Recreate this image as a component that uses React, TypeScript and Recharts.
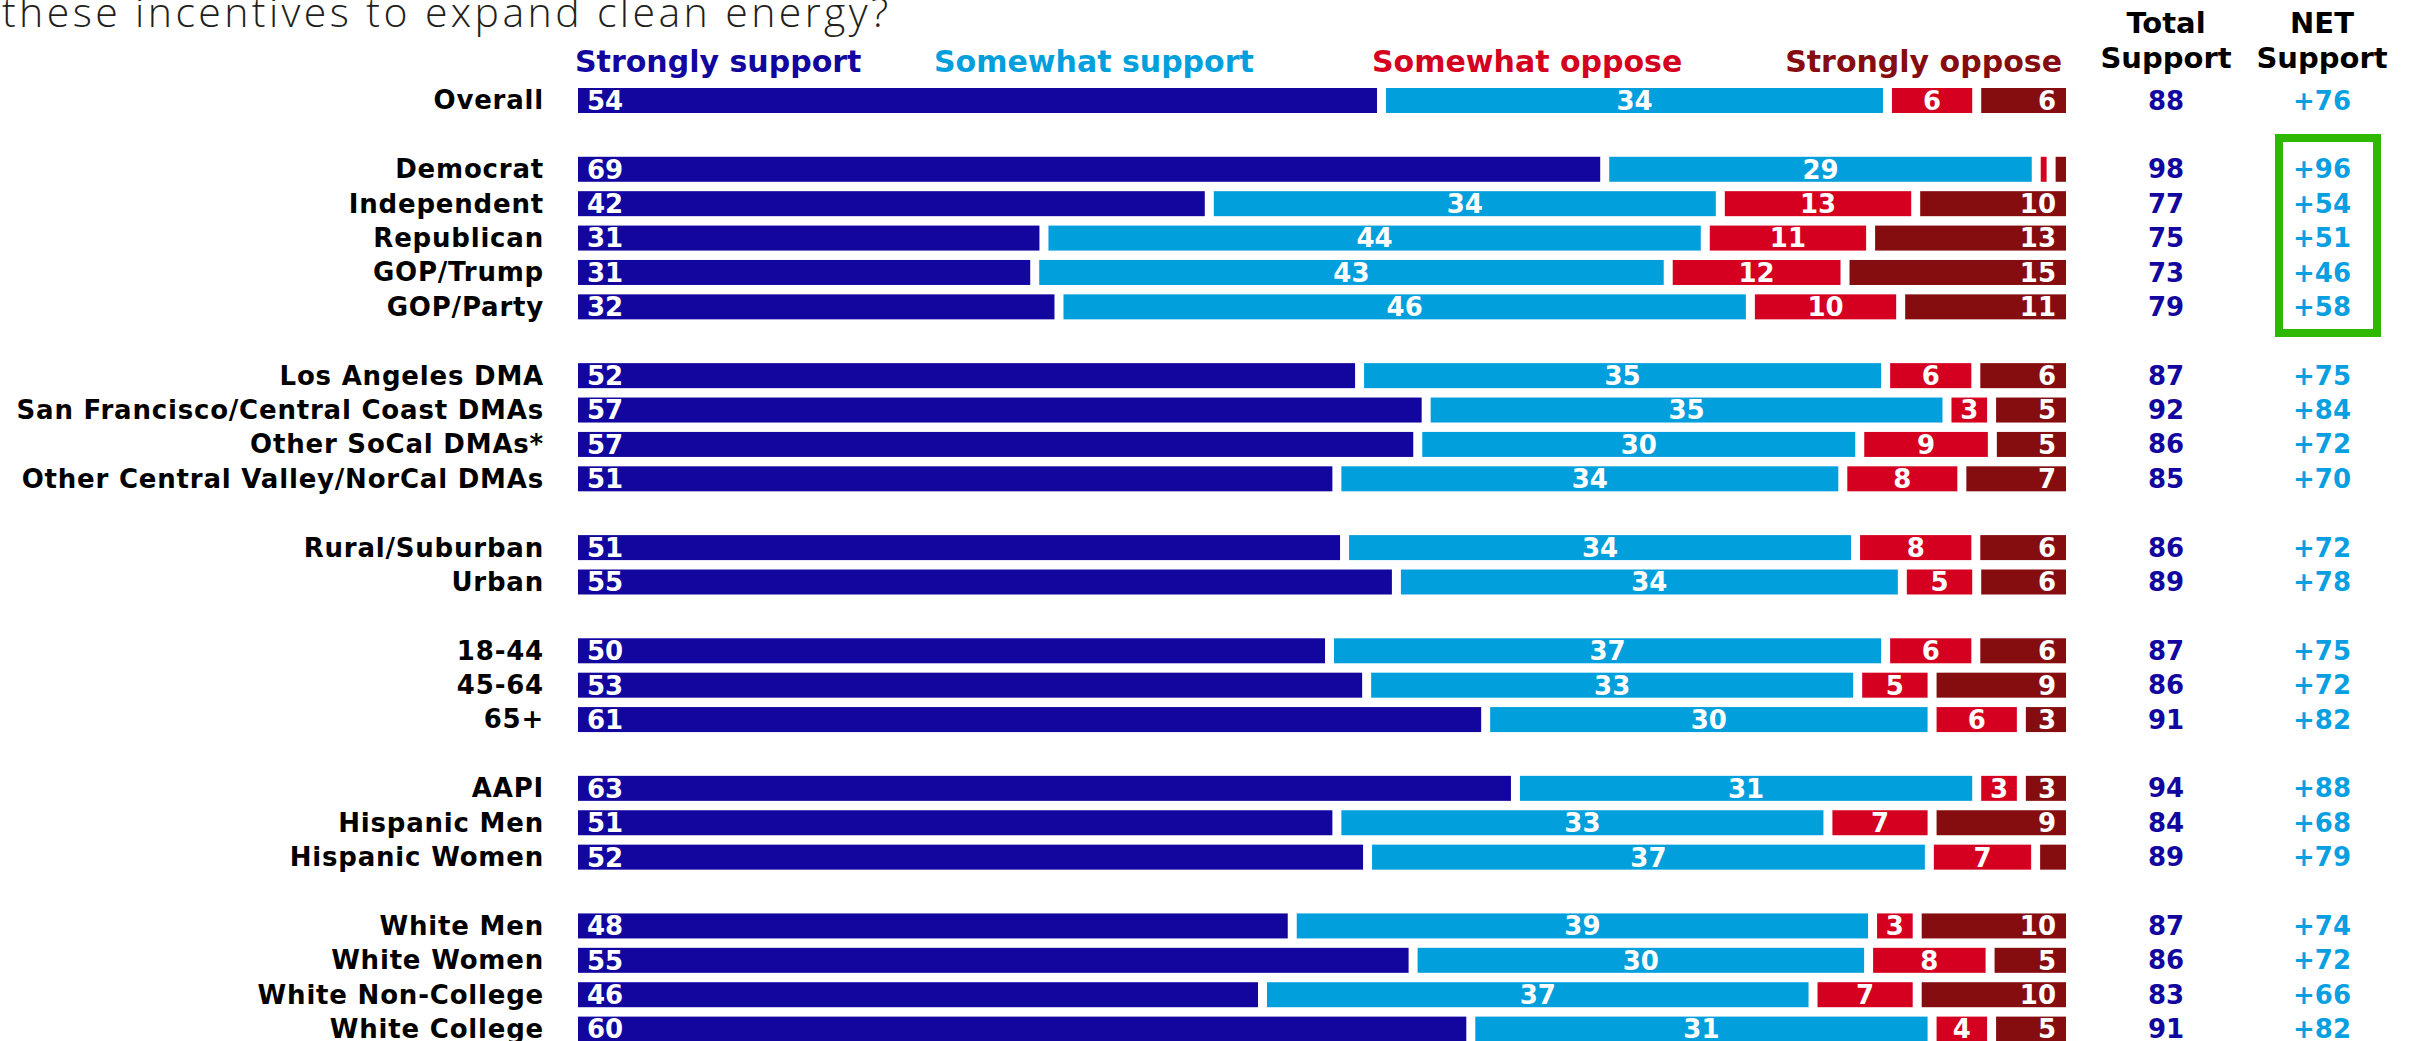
import React from "react";
import { Bar, BarChart, Legend, XAxis, YAxis } from "recharts";

const LABELS = [
  "Overall", "",
  "Democrat", "Independent", "Republican", "GOP/Trump", "GOP/Party", "",
  "Los Angeles DMA", "San Francisco/Central Coast DMAs", "Other SoCal DMAs*", "Other Central Valley/NorCal DMAs", "",
  "Rural/Suburban", "Urban", "",
  "18-44", "45-64", "65+", "",
  "AAPI", "Hispanic Men", "Hispanic Women", "",
  "White Men", "White Women", "White Non-College", "White College",
];

const _ = null;
const STRONG_SUPPORT = [54, _, 69, 42, 31, 31, 32, _, 52, 57, 57, 51, _, 51, 55, _, 50, 53, 61, _, 63, 51, 52, _, 48, 55, 46, 60];
const SOMEWHAT_SUPPORT = [34, _, 29, 34, 44, 43, 46, _, 35, 35, 30, 34, _, 34, 34, _, 37, 33, 30, _, 31, 33, 37, _, 39, 30, 37, 31];
const SOMEWHAT_OPPOSE = [6, _, 1, 13, 11, 12, 10, _, 6, 3, 9, 8, _, 8, 5, _, 6, 5, 6, _, 3, 7, 7, _, 3, 8, 7, 4];
const STRONG_OPPOSE = [6, _, 1, 10, 13, 15, 11, _, 6, 5, 5, 7, _, 6, 6, _, 6, 9, 3, _, 3, 9, 2, _, 10, 5, 10, 5];
const TOTAL_SUPPORT = [88, _, 98, 77, 75, 73, 79, _, 87, 92, 86, 85, _, 86, 89, _, 87, 86, 91, _, 94, 84, 89, _, 87, 86, 83, 91];
const NET_SUPPORT = [76, _, 96, 54, 51, 46, 58, _, 75, 84, 72, 70, _, 72, 78, _, 75, 72, 82, _, 88, 68, 79, _, 74, 72, 66, 82];

const SERIES = [
  { key: "ss", name: "Strongly support", color: "#12069F", pos: "first" },
  { key: "sw", name: "Somewhat support", color: "#029FDD", pos: "mid" },
  { key: "so", name: "Somewhat oppose", color: "#D50020", pos: "mid" },
  { key: "st", name: "Strongly oppose", color: "#850C0F", pos: "last" },
];

const data = LABELS.map((label, i) => ({
  row: `r${i}`,
  label,
  ss: STRONG_SUPPORT[i],
  sw: SOMEWHAT_SUPPORT[i],
  so: SOMEWHAT_OPPOSE[i],
  st: STRONG_OPPOSE[i],
}));

const FONT = "'DejaVu Sans', Inter, sans-serif";
const GAP = 9;

function segmentShape(key: string, pos: string) {
  return (p: any) => {
    const v = p.payload?.[key];
    if (v == null || !(p.width > 0)) return null;
    let x = p.x;
    let w = p.width;
    if (pos !== "first") {
      x += GAP / 2;
      w -= GAP / 2;
    }
    if (pos !== "last") w -= GAP / 2;
    if (w < 1) w = 1;
    const cy = p.y + p.height / 2;
    let tx = x + w / 2;
    let anchor: any = "middle";
    if (pos === "first") {
      tx = x + 9;
      anchor = "start";
    } else if (pos === "last") {
      tx = x + w - 10;
      anchor = "end";
    }
    return (
      <g>
        <rect x={x} y={p.y} width={w} height={p.height} fill={p.fill} />
        {v >= 3 && (
          <text x={tx} y={cy} dy="0.36em" textAnchor={anchor} fill="#fff" fontSize={26} fontWeight={700} fontFamily={FONT}>
            {v}
          </text>
        )}
      </g>
    );
  };
}

function ColumnsTick(props: any) {
  const i = props.index ?? props.payload?.index;
  if (TOTAL_SUPPORT[i] == null) return null;
  return (
    <g fontFamily={FONT} fontWeight={700} fontSize={26} textAnchor="middle">
      <text x={props.x + 100} y={props.y} dy="0.36em" fill="#12069F">{TOTAL_SUPPORT[i]}</text>
      <text x={props.x + 256} y={props.y} dy="0.36em" fill="#0A9FE0">+{NET_SUPPORT[i]}</text>
    </g>
  );
}

const HEADER_X = [575, 934, 1372, 2062];

function Header() {
  return (
    <svg width={2417} height={82} style={{ display: "block" }}>
      <text x={2} y={27} fontFamily="'Open Sans', sans-serif" fontWeight={300} fontSize={41} letterSpacing={3.4} fill="#231F20">
        these incentives to expand clean energy?
      </text>
      {SERIES.map((s, i) => (
        <text
          key={s.key}
          x={HEADER_X[i]}
          y={72}
          textAnchor={i === 3 ? "end" : "start"}
          fill={s.color}
          fontFamily={FONT}
          fontWeight={700}
          fontSize={30}
        >
          {s.name}
        </text>
      ))}
      <g fontFamily={FONT} fontWeight={700} fontSize={29} fill="#000" textAnchor="middle">
        <text x={2166} y={33}>Total</text>
        <text x={2166} y={68}>Support</text>
        <text x={2322} y={33}>NET</text>
        <text x={2322} y={68}>Support</text>
      </g>
    </svg>
  );
}

export default function App() {
  return (
    <div style={{ position: "absolute", left: 0, top: 0, width: 2417, height: 1041, overflow: "hidden", background: "#fff" }}>
      <BarChart
        width={2417}
        height={1046}
        data={data}
        layout="vertical"
        stackOffset="expand"
        barSize={25}
        margin={{ top: 83, right: 0, bottom: 0, left: 0 }}
      >
        <XAxis type="number" hide domain={[0, 1]} />
        <YAxis
          type="category"
          dataKey="row"
          width={578}
          axisLine={false}
          tickLine={false}
          tickSize={0}
          tickMargin={34}
          interval={0}
          tickFormatter={(_v: any, i: number) => LABELS[i]}
          tick={{ fontSize: 26, fontWeight: 700, fill: "#000", fontFamily: FONT, letterSpacing: 0.8 }}
        />
        <YAxis
          yAxisId="cols"
          orientation="right"
          type="category"
          dataKey="row"
          width={351}
          axisLine={false}
          tickLine={false}
          tickSize={0}
          tickMargin={0}
          interval={0}
          tick={<ColumnsTick />}
        />
        <Legend
          layout="horizontal"
          verticalAlign="middle"
          align="center"
          content={<Header />}
          wrapperStyle={{ position: "absolute", left: 0, top: 0, width: 2417, height: 82 }}
        />
        {SERIES.map((s) => (
          <Bar
            key={s.key}
            dataKey={s.key}
            name={s.name}
            stackId="a"
            fill={s.color}
            isAnimationActive={false}
            shape={segmentShape(s.key, s.pos)}
          />
        ))}
      </BarChart>
      <svg width={2417} height={1041} style={{ position: "absolute", left: 0, top: 0, pointerEvents: "none" }}>
        <rect x={2279} y={138} width={98} height={195} fill="none" stroke="#2EB800" strokeWidth={8} />
      </svg>
    </div>
  );
}
